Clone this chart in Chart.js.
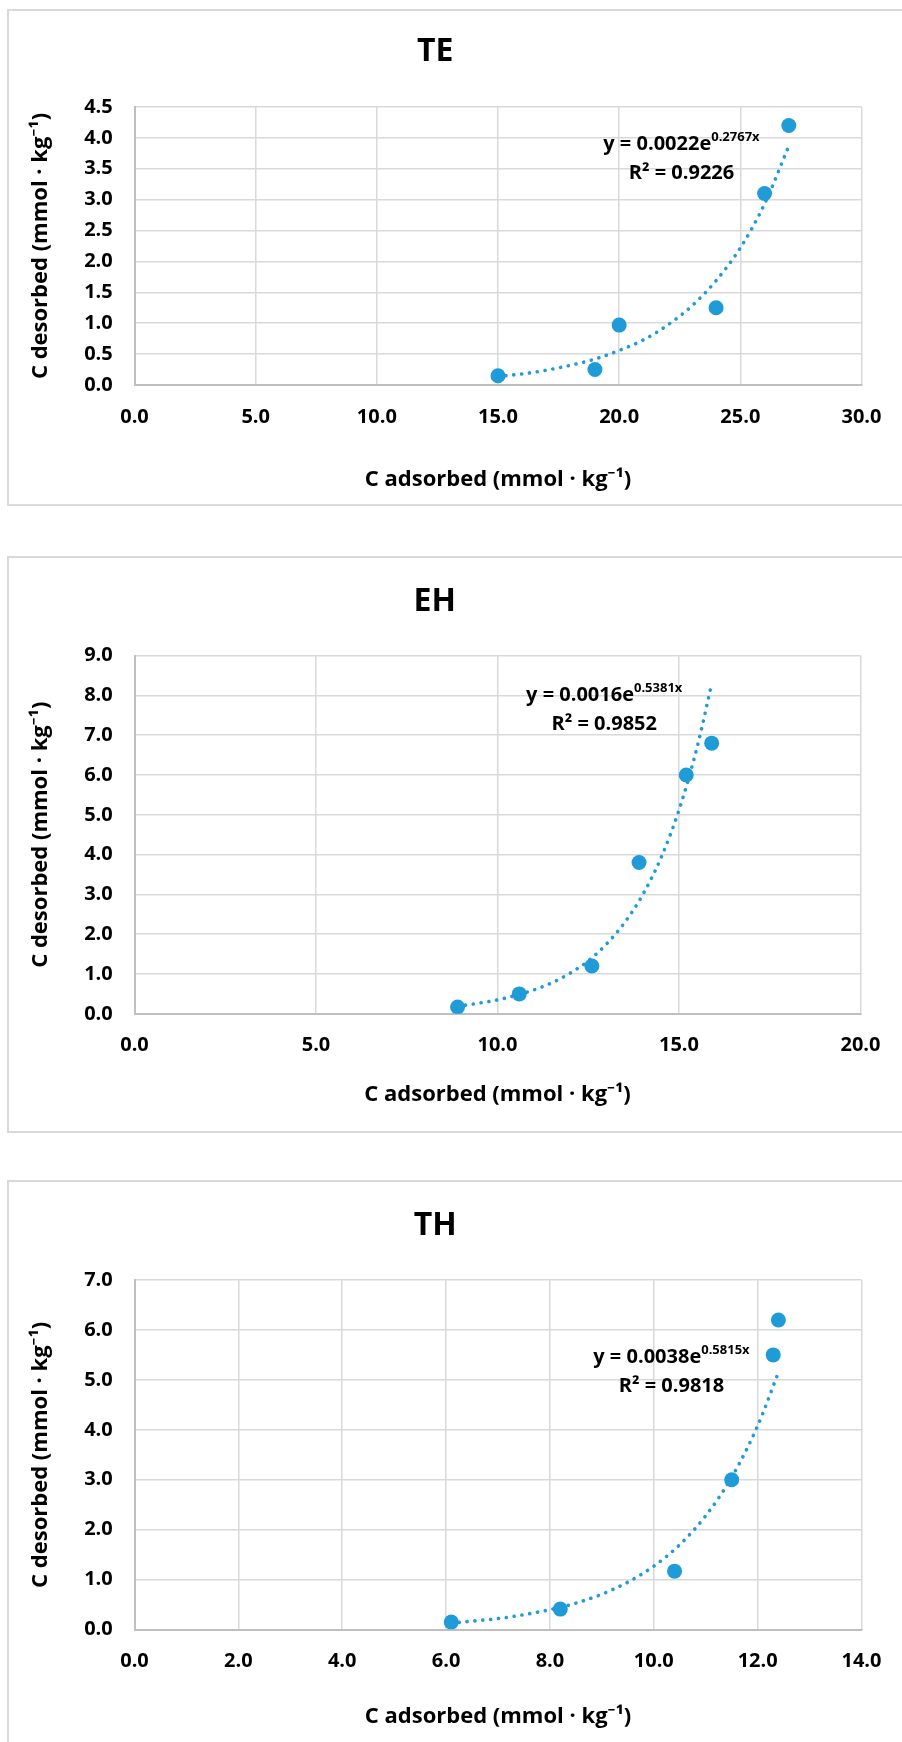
<!DOCTYPE html>
<html>
<head>
<meta charset="utf-8">
<script src="https://cdn.jsdelivr.net/npm/chart.js@4.4.1/dist/chart.umd.min.js"></script>
<style>
  body { margin: 0; background: #fff; width: 902px; height: 1742px; overflow: hidden; position: relative; }
  .box { position: absolute; left: 7px; width: 905px; border: 2px solid #D9D9D9; box-sizing: border-box; background: #fff; }
  canvas { position: absolute; left: 0; top: 0; }
</style>
</head>
<body>
<div class="box" style="top:9px;height:497px"><canvas id="te" width="880" height="493"></canvas></div>
<div class="box" style="top:556px;height:577px"><canvas id="eh" width="880" height="573"></canvas></div>
<div class="box" style="top:1180px;height:600px"><canvas id="th" width="880" height="560"></canvas></div>
<script>
// TE
const teX = [15.0, 19.0, 20.0, 24.0, 26.0, 27.0];
const teY = [0.15, 0.25, 0.97, 1.25, 3.10, 4.20];
const teTrendX = [15, 16, 17, 18, 19, 20, 21, 22, 23, 24, 25, 26, 27];
const teTrendY = [0.14, 0.18, 0.24, 0.32, 0.42, 0.56, 0.73, 0.97, 1.28, 1.69, 2.22, 2.93, 3.87];
const teXTicks = [0, 5, 10, 15, 20, 25, 30];
const teYTicks = [0, 0.5, 1, 1.5, 2, 2.5, 3, 3.5, 4, 4.5];
const teFit = ['0.0022', '0.2767', '0.9226'];

// EH
const ehX = [8.9, 10.6, 12.6, 13.9, 15.2, 15.9];
const ehY = [0.17, 0.50, 1.20, 3.80, 6.00, 6.80];
const ehTrendX = [8.9, 9.5, 10, 10.5, 11, 11.5, 12, 12.5, 13, 13.5, 14, 14.5, 15, 15.5, 15.9];
const ehTrendY = [0.19, 0.27, 0.35, 0.46, 0.60, 0.78, 1.02, 1.33, 1.75, 2.29, 2.99, 3.91, 5.12, 6.70, 8.29];
const ehXTicks = [0, 5, 10, 15, 20];
const ehYTicks = [0, 1, 2, 3, 4, 5, 6, 7, 8, 9];
const ehFit = ['0.0016', '0.5381', '0.9852'];

// TH
const thX = [6.1, 8.2, 10.4, 11.5, 12.3, 12.4];
const thY = [0.15, 0.41, 1.17, 3.00, 5.50, 6.20];
const thTrendX = [6.1, 6.5, 7, 7.5, 8, 8.5, 9, 9.5, 10, 10.5, 11, 11.5, 12, 12.4];
const thTrendY = [0.13, 0.17, 0.22, 0.30, 0.40, 0.53, 0.71, 0.95, 1.27, 1.70, 2.28, 3.05, 4.08, 5.15];
const thXTicks = [0, 2, 4, 6, 8, 10, 12, 14];
const thYTicks = [0, 1, 2, 3, 4, 5, 6, 7];
const thFit = ['0.0038', '0.5815', '0.9818'];

const FONT = '"Open Sans", "Noto Sans", sans-serif';
const BLUE = '#1F9BD7';
const GRID = '#D9D9D9';

// trendline equation with superscript exponent
const eqLabel = {
  id: 'eqLabel',
  afterDatasetsDraw(chart, args, o) {
    const { ctx, scales: { x, y } } = chart;
    const cx = x.getPixelForValue(o.at[0]);
    const by = y.getPixelForValue(o.at[1]);
    const base = 'y = ' + o.fit[0] + 'e';
    const sup = o.fit[1] + 'x';
    const big = 'bold 20px ' + FONT, small = 'bold 13px ' + FONT;
    ctx.save();
    ctx.fillStyle = '#000';
    ctx.textBaseline = 'alphabetic';
    ctx.font = big;
    const w1 = ctx.measureText(base).width;
    ctx.font = small;
    const w2 = ctx.measureText(sup).width;
    const left = cx - (w1 + w2) / 2;
    ctx.textAlign = 'left';
    ctx.font = big;
    ctx.fillText(base, left, by);
    ctx.font = small;
    ctx.fillText(sup, left + w1, by - 9);
    ctx.font = big;
    ctx.textAlign = 'center';
    ctx.fillText('R² = ' + o.fit[2], cx, by + 29);
    ctx.restore();
  }
};

function makeChart(id, s, L) {
  const pts = s.x.map((v, i) => ({ x: v, y: s.y[i] }));
  const trend = s.tx.map((v, i) => ({ x: v, y: s.ty[i] }));
  const titleLH = 32 * 1.2;
  const padTop = L.titleY - titleLH / 2;
  const tickFont = { family: FONT, size: 20, weight: 'bold' };
  const axisFont = { family: FONT, size: 22, weight: 'bold' };
  const axisHalf = 22 * 1.2 / 2;

  new Chart(document.getElementById(id), {
    type: 'scatter',
    data: {
      datasets: [
        { data: pts, backgroundColor: BLUE, borderColor: BLUE, borderWidth: 0, pointRadius: 7.5, pointHoverRadius: 7.5 },
        { data: trend, showLine: true, pointRadius: 0, borderColor: BLUE, borderWidth: 3.6,
          borderDash: [0.1, 7.8], borderCapStyle: 'round', cubicInterpolationMode: 'monotone', fill: false }
      ]
    },
    options: {
      responsive: false,
      animation: false,
      events: [],
      layout: { padding: { left: 0, right: L.rightPad, top: 0, bottom: 0 } },
      plugins: {
        legend: { display: false },
        tooltip: { enabled: false },
        title: {
          display: true, text: s.title, color: '#000',
          font: { family: FONT, size: 32, weight: 'bold' },
          padding: { top: padTop, bottom: L.plotT - padTop - titleLH }
        },
        eqLabel: { at: s.labelAt, fit: s.fit }
      },
      scales: {
        x: {
          type: 'linear',
          min: s.xTicks[0], max: s.xTicks[s.xTicks.length - 1],
          afterBuildTicks: sc => { sc.ticks = s.xTicks.map(v => ({ value: v })); },
          afterFit: sc => { sc.height = L.h - L.plotB; sc.paddingLeft = 0; sc.paddingRight = 0; },
          ticks: { color: '#000', font: tickFont, padding: L.xTickY - L.plotB - 12, autoSkip: false, maxRotation: 0,
                   callback: v => Number(v).toFixed(1) },
          grid: { color: GRID, lineWidth: 1.5, drawTicks: false },
          border: { color: '#BFBFBF', width: 2 },
          title: { display: true, text: 'C adsorbed (mmol · kg⁻¹)', color: '#000', font: axisFont,
                   padding: { top: 0, bottom: L.h - L.xTitleY - axisHalf } }
        },
        y: {
          type: 'linear',
          min: s.yTicks[0], max: s.yTicks[s.yTicks.length - 1],
          afterBuildTicks: sc => { sc.ticks = s.yTicks.map(v => ({ value: v })); },
          afterFit: sc => { sc.width = L.plotL; sc.paddingTop = 0; sc.paddingBottom = 0; },
          ticks: { color: '#000', font: tickFont, padding: L.plotL - L.yTickR, autoSkip: false,
                   callback: v => Number(v).toFixed(1) },
          grid: { color: GRID, lineWidth: 1.5, drawTicks: false },
          border: { color: '#BFBFBF', width: 2 },
          title: { display: true, text: 'C desorbed (mmol · kg⁻¹)', color: '#000', font: axisFont,
                   padding: { top: L.yTitleX - axisHalf, bottom: 0 } }
        }
      }
    },
    plugins: [eqLabel]
  });
}

makeChart('te',
  { title: 'TE', x: teX, y: teY, tx: teTrendX, ty: teTrendY, xTicks: teXTicks, yTicks: teYTicks, fit: teFit, labelAt: [22.57, 3.80] },
  { h: 493, plotL: 125.5, rightPad: 27.5, plotT: 96, plotB: 374, titleY: 41, xTickY: 406.5, xTitleY: 469, yTickR: 103.7, yTitleX: 32 });

makeChart('eh',
  { title: 'EH', x: ehX, y: ehY, tx: ehTrendX, ty: ehTrendY, xTicks: ehXTicks, yTicks: ehYTicks, fit: ehFit, labelAt: [12.94, 7.87] },
  { h: 573, plotL: 125.5, rightPad: 28.5, plotT: 97.6, plotB: 455.8, titleY: 44, xTickY: 487, xTitleY: 537, yTickR: 103.7, yTitleX: 32 });

makeChart('th',
  { title: 'TH', x: thX, y: thY, tx: thTrendX, ty: thTrendY, xTicks: thXTicks, yTicks: thYTicks, fit: thFit, labelAt: [10.34, 5.33] },
  { h: 560, plotL: 125.5, rightPad: 27.5, plotT: 98, plotB: 447.6, titleY: 44, xTickY: 479, xTitleY: 535, yTickR: 103.7, yTitleX: 32 });
</script>
</body>
</html>
